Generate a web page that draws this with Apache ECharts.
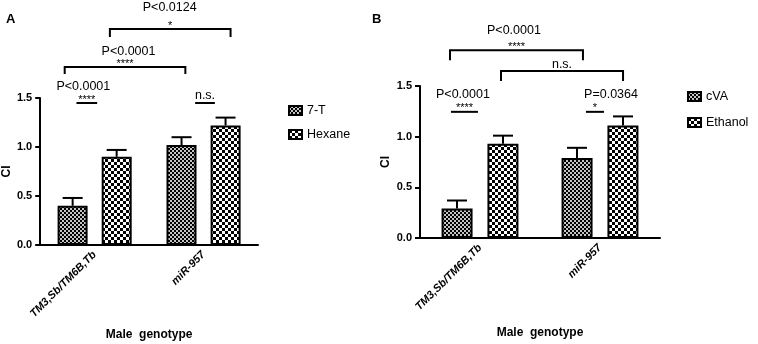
<!DOCTYPE html>
<html><head><meta charset="utf-8">
<script src="https://cdn.jsdelivr.net/npm/echarts@6/dist/echarts.min.js"></script>
<style>html,body{margin:0;padding:0;background:#fff}#c{width:758px;height:344px}</style>
</head><body><div id="c"></div>
<script>
const categories = ['TM3,Sb/TM6B,Tb', 'miR-957'];
const t7 = [0.40, 1.02];
const t7Err = [0.08, 0.08];
const hexane = [0.90, 1.22];
const hexaneErr = [0.07, 0.08];
const cva = [0.29, 0.79];
const cvaErr = [0.08, 0.10];
const ethanol = [0.93, 1.11];
const ethanolErr = [0.08, 0.09];
const yTicks = [0.0, 0.5, 1.0, 1.5];
// significance: [x1 (category units), x2, y (CI units), bracket drop, p-text, p-text x, mark, p-text lift]
const sigA = [
  [-0.167, 0.023, 1.449, 0, 'P<0.0001', -0.104, '****', 16.5],
  [0.923, 1.104, 1.449, 0, '', 0, 'n.s.', 0],
  [-0.275, 0.833, 1.816, 7, 'P<0.0001', 0.311, '****', 15.5],
  [0.14, 1.248, 2.204, 8, 'P<0.0124', 0.689, '*', 21.5]
];
const sigB = [
  [-0.25, 0.858, 1.853, 10, 'P<0.0001', 0.283, '****', 20],
  [0.175, 1.192, 1.647, 10, '', 0, 'n.s.', 0],
  [-0.242, -0.017, 1.245, 0, 'P<0.0001', -0.142, '****', 17],
  [0.883, 1.033, 1.245, 0, 'P=0.0364', 1.092, '*', 17]
];

function pattern(cell, c1, c2) {
  const cv = document.createElement('canvas');
  cv.width = cell * 2; cv.height = cell * 2;
  const g = cv.getContext('2d');
  g.fillStyle = c2; g.fillRect(0, 0, cell * 2, cell * 2);
  g.fillStyle = c1;
  g.fillRect(0, 0, cell, cell);
  g.fillRect(cell, cell, cell, cell);
  return { image: cv, repeat: 'repeat' };
}
const fine = pattern(2, '#000', '#c4c4c4');
const coarse = pattern(3, '#000', '#fff');
const FONT = "'Liberation Sans', Arial, sans-serif";

function errRender(vals, errs, off) {
  return function (params, api) {
    const i = params.dataIndex;
    const base = api.coord([i, vals[i]]);
    const top = api.coord([i, vals[i] + errs[i]]);
    const x = base[0] + off;
    return { type: 'group', children: [
      { type: 'line', shape: { x1: x, y1: base[1], x2: x, y2: top[1] }, style: { stroke: '#000', lineWidth: 2 } },
      { type: 'line', shape: { x1: x - 10, y1: top[1], x2: x + 10, y2: top[1] }, style: { stroke: '#000', lineWidth: 2 } }
    ]};
  };
}
function sigRender(sig) {
  return function (params, api) {
    const s = sig[params.dataIndex];
    const a = api.coord([0, s[2]]), b = api.coord([1, s[2]]);
    const unit = b[0] - a[0];
    const X = f => a[0] + unit * f;
    const y = a[1];
    const x1 = X(s[0]), x2 = X(s[1]);
    const pts = s[3] ? [[x1, y + s[3]], [x1, y], [x2, y], [x2, y + s[3]]] : [[x1, y], [x2, y]];
    const children = [{ type: 'polyline', shape: { points: pts }, style: { stroke: '#000', lineWidth: 2, fill: 'none' } }];
    const isStar = s[6].indexOf('*') >= 0;
    children.push({ type: 'text', x: (x1 + x2) / 2, y: y - (isStar ? 3.5 : 7),
      style: { text: s[6], fontSize: isStar ? 11 : 12.5, fontFamily: FONT, fill: '#000', align: 'center', verticalAlign: 'middle' } });
    if (s[4]) children.push({ type: 'text', x: X(s[5]), y: y - s[7],
      style: { text: s[4], fontSize: 12.5, fontFamily: FONT, fill: '#000', align: 'center', verticalAlign: 'middle' } });
    return { type: 'group', children };
  };
}

function xAxisCfg(gi, gap) {
  return {
    gridIndex: gi, type: 'category', data: categories,
    axisLine: { lineStyle: { color: '#000', width: 2 } },
    axisTick: { alignWithLabel: true, length: 5, lineStyle: { color: '#000', width: 2 } },
    axisLabel: { rotate: 45, fontStyle: 'italic', fontWeight: 'bold', fontSize: 11, color: '#000', margin: 8, fontFamily: FONT },
    name: 'Male  genotype', nameLocation: 'middle', nameGap: gap,
    nameTextStyle: { fontWeight: 'bold', fontSize: 12, color: '#000', fontFamily: FONT }
  };
}
function yAxisCfg(gi, gap) {
  return {
    gridIndex: gi, type: 'value', min: yTicks[0], max: yTicks[yTicks.length - 1], interval: yTicks[1] - yTicks[0],
    axisLine: { show: true, lineStyle: { color: '#000', width: 2 } },
    axisTick: { show: true, length: 5, lineStyle: { color: '#000', width: 2 } },
    axisLabel: { fontWeight: 'bold', fontSize: 11, color: '#000', margin: 8, fontFamily: FONT, formatter: v => v.toFixed(1) },
    splitLine: { show: false },
    name: 'CI', nameLocation: 'middle', nameGap: gap,
    nameTextStyle: { fontWeight: 'bold', fontSize: 12, color: '#000', fontFamily: FONT }
  };
}
function barSeries(name, data, gi, fill, bw, gapPct) {
  return { name, type: 'bar', xAxisIndex: gi, yAxisIndex: gi, data, barWidth: bw, barGap: gapPct,
    itemStyle: { color: fill, borderColor: '#000', borderWidth: 2 } };
}
function errSeries(vals, errs, gi, off) {
  return { type: 'custom', xAxisIndex: gi, yAxisIndex: gi, silent: true, clip: false, z: 1,
    data: vals.map((v, i) => [i, v + errs[i]]), renderItem: errRender(vals, errs, off) };
}
function sigSeries(sig, gi) {
  return { type: 'custom', xAxisIndex: gi, yAxisIndex: gi, silent: true, clip: false, z: 5,
    data: sig.map(s => [0, s[2]]), renderItem: sigRender(sig) };
}

const chart = echarts.init(document.getElementById('c'), null, { renderer: 'canvas' });
chart.setOption({
  animation: false,
  textStyle: { fontFamily: FONT },
  title: [
    { text: 'A', left: 6, top: 13, padding: 0, textStyle: { fontSize: 13, fontWeight: 'bold', color: '#000', fontFamily: FONT } },
    { text: 'B', left: 372, top: 13, padding: 0, textStyle: { fontSize: 13, fontWeight: 'bold', color: '#000', fontFamily: FONT } }
  ],
  legend: [
    { data: ['7-T', 'Hexane'], orient: 'vertical', left: 288, top: 104, itemWidth: 13, itemHeight: 9, itemGap: 11,
      icon: 'rect', textStyle: { fontSize: 12.5, color: '#000', fontFamily: FONT }, padding: 0 },
    { data: ['cVA', 'Ethanol'], orient: 'vertical', left: 687, top: 90, itemWidth: 13, itemHeight: 9, itemGap: 13,
      icon: 'rect', textStyle: { fontSize: 12.5, color: '#000', fontFamily: FONT }, padding: 0 }
  ],
  grid: [
    { left: 37, top: 98, width: 221, height: 147 },
    { left: 420, top: 86, width: 240, height: 152 }
  ],
  xAxis: [xAxisCfg(0, 84), xAxisCfg(1, 89)],
  yAxis: [yAxisCfg(0, 26), yAxisCfg(1, 28)],
  series: [
    barSeries('7-T', t7, 0, fine, 30, '47%'),
    barSeries('Hexane', hexane, 0, coarse, 30, '47%'),
    errSeries(t7, t7Err, 0, -22),
    errSeries(hexane, hexaneErr, 0, 22),
    sigSeries(sigA, 0),
    barSeries('cVA', cva, 1, fine, 31, '48%'),
    barSeries('Ethanol', ethanol, 1, coarse, 31, '48%'),
    errSeries(cva, cvaErr, 1, -23),
    errSeries(ethanol, ethanolErr, 1, 23),
    sigSeries(sigB, 1)
  ]
});
</script></body></html>
